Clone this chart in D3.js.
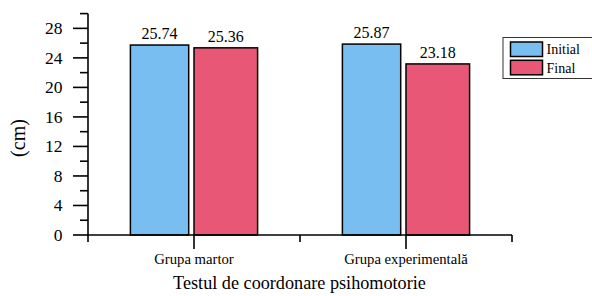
<!DOCTYPE html>
<html><head><meta charset="utf-8">
<script src="https://cdn.jsdelivr.net/npm/d3@7"></script>
<style>body{margin:0;background:#fff}svg{display:block}</style>
</head><body><svg id="c" width="592" height="296" font-family="'Liberation Serif', 'Times New Roman', Tinos, 'DejaVu Serif', serif"></svg>
<script>
const categories = ["Grupa martor", "Grupa experimentală"];
const seriesNames = ["Initial", "Final"];
const initialValues = [25.74, 25.87];
const finalValues = [25.36, 23.18];
const yTicks = [0, 4, 8, 12, 16, 20, 24, 28];
const colors = ["#79BEF1", "#E85876"];
const series = [initialValues, finalValues];

const svg = d3.select("#c");
const x = d3.scaleLinear().domain([0.5, 2.5]).range([88, 512]);
const y = d3.scaleLinear().domain([0, 30]).range([235, 13.6]);
const offsets = [[-0.3, -0.025], [0, 0.3]];

// bars
series.forEach((vals, s) => {
  svg.append("g").selectAll("rect").data(vals).join("rect")
    .attr("x", (d, i) => x(i + 1 + offsets[s][0]))
    .attr("width", (d, i) => x(i + 1 + offsets[s][1]) - x(i + 1 + offsets[s][0]))
    .attr("y", d => y(d))
    .attr("height", d => y(0) - y(d))
    .attr("fill", colors[s]).attr("stroke", "#000").attr("stroke-width", 1.5);
  svg.append("g").selectAll("text").data(vals).join("text")
    .attr("x", (d, i) => (x(i + 1 + offsets[s][0]) + x(i + 1 + offsets[s][1])) / 2)
    .attr("y", d => y(d) - 6)
    .attr("text-anchor", "middle").attr("font-size", 16)
    .text(d => d.toFixed(2));
});

// y axis
const ya = svg.append("g").attr("transform", "translate(88,0)");
ya.append("line").attr("x1", 0).attr("x2", 0).attr("y1", y(30)).attr("y2", y(0)).attr("stroke", "#000").attr("stroke-width", 1.6);
ya.selectAll(".minor").data(d3.range(0, 31, 2)).join("line")
  .attr("x1", d => yTicks.includes(d) ? -15 : -8).attr("x2", 0)
  .attr("y1", d => y(d)).attr("y2", d => y(d))
  .attr("stroke", "#000").attr("stroke-width", 1.6);
ya.selectAll("text").data(yTicks).join("text")
  .attr("x", -25.5).attr("y", d => y(d)).attr("dy", "0.34em")
  .attr("text-anchor", "end").attr("font-size", 17.5).text(d => d);

// x axis
const xa = svg.append("g");
xa.append("line").attr("x1", x(0.5)).attr("x2", x(2.5)).attr("y1", y(0)).attr("y2", y(0)).attr("stroke", "#000").attr("stroke-width", 1.6);
xa.selectAll(".t").data([0.5, 1, 1.5, 2, 2.5]).join("line")
  .attr("x1", d => x(d)).attr("x2", d => x(d))
  .attr("y1", y(0)).attr("y2", d => Number.isInteger(d) ? y(0) + 14 : y(0) + 7)
  .attr("stroke", "#000").attr("stroke-width", 1.6);
xa.selectAll("text").data(categories).join("text")
  .attr("x", (d, i) => x(i + 1)).attr("y", 264)
  .attr("text-anchor", "middle").attr("font-size", 14.7).text(d => d);

// titles
svg.append("text").attr("x", 299.5).attr("y", 289).attr("text-anchor", "middle").attr("font-size", 18.2).text("Testul de coordonare psihomotorie");
svg.append("text").attr("transform", "translate(25,138) rotate(-90)").attr("text-anchor", "middle").attr("font-size", 20).text("(cm)");

// legend
const lg = svg.append("g");
lg.append("rect").attr("x", 503).attr("y", 37.5).attr("width", 95).attr("height", 41).attr("fill", "#fff").attr("stroke", "#333").attr("stroke-width", 1);
seriesNames.forEach((n, i) => {
  lg.append("rect").attr("x", 510.5).attr("y", 42 + i * 18.3).attr("width", 32).attr("height", 14.5)
    .attr("fill", colors[i]).attr("stroke", "#000").attr("stroke-width", 1.5);
  lg.append("text").attr("x", 546.5).attr("y", 49.5 + i * 18.3).attr("dy", "0.34em").attr("font-size", 14).text(n);
});
</script></body></html>
